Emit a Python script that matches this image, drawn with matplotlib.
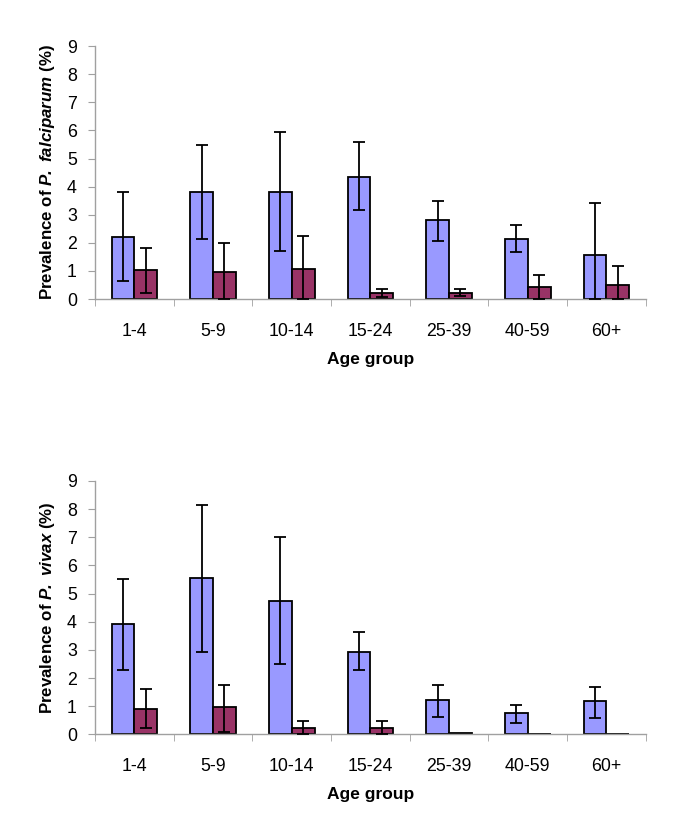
import matplotlib
matplotlib.use('Agg')
import matplotlib.pyplot as plt
import numpy as np

plt.rcParams['font.family'] = ['Liberation Sans', 'DejaVu Sans']
plt.rcParams['mathtext.fontset'] = 'custom'
plt.rcParams['mathtext.bfit'] = 'Liberation Sans:italic:bold'

age_groups = ['1-4', '5-9', '10-14', '15-24', '25-39', '40-59', '60+']

# P. falciparum
pf_blue = [2.2, 3.8, 3.8, 4.35, 2.8, 2.15, 1.57]
pf_blue_lo = [0.64, 2.14, 1.72, 3.17, 2.05, 1.66, 0.0]
pf_blue_hi = [3.8, 5.48, 5.95, 5.58, 3.49, 2.63, 3.43]
pf_red = [1.02, 0.97, 1.08, 0.22, 0.22, 0.44, 0.5]
pf_red_lo = [0.22, 0.0, 0.0, 0.07, 0.1, 0.0, 0.0]
pf_red_hi = [1.83, 1.98, 2.25, 0.34, 0.34, 0.85, 1.19]

# P. vivax
pv_blue = [3.91, 5.56, 4.75, 2.94, 1.23, 0.75, 1.18]
pv_blue_lo = [2.28, 2.92, 2.51, 2.28, 0.63, 0.41, 0.58]
pv_blue_hi = [5.52, 8.13, 7.0, 3.62, 1.74, 1.05, 1.69]
pv_red = [0.91, 0.96, 0.22, 0.21, 0.04, 0.0, 0.0]
pv_red_lo = [0.21, 0.1, 0.0, 0.0, 0.04, 0.0, 0.0]
pv_red_hi = [1.6, 1.74, 0.47, 0.48, 0.04, 0.0, 0.0]

blue = '#9999FF'
red = '#993366'
grey = '#A0A0A0'

fig = plt.figure(figsize=(6.85, 8.32), dpi=100)
ax1 = fig.add_axes([0.1387, 0.6406, 0.804, 0.304])
ax2 = fig.add_axes([0.1387, 0.1174, 0.804, 0.3045])

w = 0.29


def panel(ax, b, blo, bhi, r, rlo, rhi, ylabel):
    x = np.arange(len(age_groups))
    b = np.array(b); r = np.array(r)
    berr = [b - np.array(blo), np.array(bhi) - b]
    rerr = [r - np.array(rlo), np.array(rhi) - r]
    ax.bar(x - w, b, w, align='edge', color=blue, edgecolor='black', linewidth=1.3, zorder=2)
    ax.bar(x, r, w, align='edge', color=red, edgecolor='black', linewidth=1.3, zorder=2)
    ax.errorbar(x - w / 2, b, yerr=berr, fmt='none', ecolor='black', elinewidth=1.3,
                capsize=4, capthick=1.3, zorder=3)
    has = (np.array(rhi) - np.array(rlo)) > 0.01
    ax.errorbar((x + w / 2)[has], r[has], yerr=[rerr[0][has], rerr[1][has]], fmt='none',
                ecolor='black', elinewidth=1.3, capsize=4, capthick=1.3, zorder=3)
    ax.set_xlim(-0.5, len(age_groups) - 0.5)
    ax.set_ylim(0, 9)
    ax.set_yticks(range(10))
    ax.set_xticks(x)
    ax.set_xticklabels(age_groups)
    ax.set_xticks(np.arange(len(age_groups) + 1) - 0.5, minor=True)
    ax.tick_params(axis='x', which='major', length=0, pad=17, labelsize=12.8)
    ax.tick_params(axis='x', which='minor', length=5, color=grey, direction='out')
    ax.tick_params(axis='y', length=5, color=grey, labelsize=12.8, pad=8)
    for s in ['top', 'right']:
        ax.spines[s].set_visible(False)
    for s in ['left', 'bottom']:
        ax.spines[s].set_color(grey)
        ax.spines[s].set_linewidth(1.0)
    ax.set_xlabel('Age group', fontsize=12.5, fontweight='bold', labelpad=9)
    ax.set_ylabel(ylabel, fontsize=12.2, fontweight='bold', labelpad=7)


panel(ax1, pf_blue, pf_blue_lo, pf_blue_hi, pf_red, pf_red_lo, pf_red_hi,
      r'Prevalence of $\mathbfit{P.}$ $\mathbfit{falciparum}$ (%)')
panel(ax2, pv_blue, pv_blue_lo, pv_blue_hi, pv_red, pv_red_lo, pv_red_hi,
      r'Prevalence of $\mathbfit{P.}$ $\mathbfit{vivax}$ (%)')

fig.savefig('out.png', dpi=100)
